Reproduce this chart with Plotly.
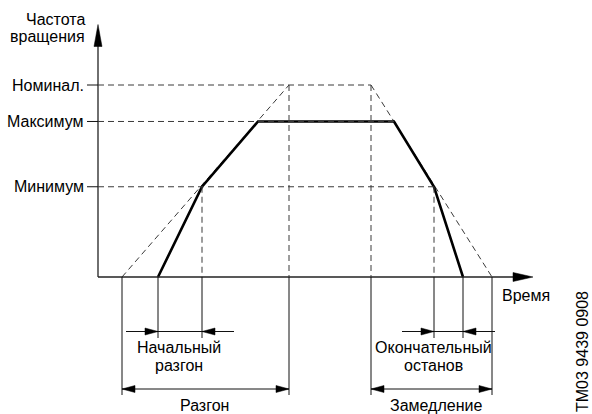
import plotly.graph_objects as go

# ---- data -------------------------------------------------------------
# speed levels in % of nominal speed
LEVEL_LABELS = ["Номинал.", "Максимум", "Минимум"]
NOMINAL = 100
MAXIMUM = 81
MINIMUM = 47

# dashed ramp through nominal speed (time, s)
RAMP_UP_T = [2.4, 19.1]          # 0 -> nominal
RAMP_DOWN_T = [27.3, 39.4]       # nominal -> 0

# actual speed profile
PROFILE_T = [6.0, 10.4, 16.0, 29.6, 33.6, 36.5]
PROFILE_V = [0, MINIMUM, MAXIMUM, MAXIMUM, MINIMUM, 0]

# ---- layout constants ---------------------------------------------------
W, H = 592, 414
X0_PX, Y0_PX = 98, 277           # origin of the time/speed axes
PX_PER_T = 10.0                  # horizontal pixels per second
PX_PER_V = 1.92                  # vertical pixels per % speed

X_RANGE = [-X0_PX / PX_PER_T, (W - X0_PX) / PX_PER_T]
Y_RANGE = [-(H - Y0_PX) / PX_PER_V, Y0_PX / PX_PER_V]


def dx(px):
    return px / PX_PER_T


def dy(px):
    return px / PX_PER_V


FONT = dict(family="Liberation Sans, Arial, sans-serif", size=16, color="#000")
DASH = "6px,4px"
DASH_COL = "#3a3a3a"
THIN_COL = "#111"

fig = go.Figure()
shapes = []
annotations = []


def seg(x0, y0, x1, y1, color=THIN_COL, width=1, dash="solid"):
    shapes.append(dict(type="line", xref="x", yref="y", x0=x0, y0=y0,
                       x1=x1, y1=y1, layer="above",
                       line=dict(color=color, width=width, dash=dash)))


def arrowhead(tx, ty, direction, length_px, width_px, color="#000"):
    """Filled triangle with its tip at (tx, ty)."""
    if direction in ("left", "right"):
        s = 1 if direction == "right" else -1
        bx = tx - s * dx(length_px)
        pts = [(tx, ty), (bx, ty + dy(width_px / 2)), (bx, ty - dy(width_px / 2))]
    else:
        s = 1 if direction == "up" else -1
        by = ty - s * dy(length_px)
        pts = [(tx, ty), (tx - dx(width_px / 2), by), (tx + dx(width_px / 2), by)]
    path = "M " + " L ".join(f"{x},{y}" for x, y in pts) + " Z"
    shapes.append(dict(type="path", xref="x", yref="y", path=path,
                       fillcolor=color, line=dict(color=color, width=0.5),
                       layer="above"))


def text(x, y, s, xanchor="center", angle=0):
    annotations.append(dict(x=x, y=y, xref="x", yref="y", text=s,
                            showarrow=False, xanchor=xanchor,
                            yanchor="middle", font=FONT, textangle=angle))


# ---- axes with arrows ---------------------------------------------------
t_tip = dx(533 - X0_PX)
v_tip = dy(Y0_PX - 24.5)
seg(0, 0, t_tip - dx(18), 0, color="#222", width=1.3)
seg(0, 0, 0, v_tip - dy(18), color="#222", width=1.3)
arrowhead(t_tip, 0, "right", 20, 9)
arrowhead(0, v_tip, "up", 22, 8)

# ---- level ticks, labels and dashed guides ------------------------------
t_end_nom = RAMP_DOWN_T[0]
t_end_max = PROFILE_T[3]
t_end_min = PROFILE_T[4]
for label, level, t_end in zip(LEVEL_LABELS, [NOMINAL, MAXIMUM, MINIMUM],
                               [t_end_nom, t_end_max, t_end_min]):
    seg(-dx(11), level, 0, level, width=1)
    seg(0, level, t_end, level, color=DASH_COL, dash=DASH)
    text(-dx(12), level, label, xanchor="right")

# vertical dashed guides
seg(RAMP_UP_T[1], NOMINAL, RAMP_UP_T[1], 0, color=DASH_COL, dash=DASH)
seg(RAMP_DOWN_T[0], NOMINAL, RAMP_DOWN_T[0], 0, color=DASH_COL, dash=DASH)
seg(PROFILE_T[1], MINIMUM, PROFILE_T[1], 0, color=DASH_COL, dash=DASH)
seg(PROFILE_T[4], MINIMUM, PROFILE_T[4], 0, color=DASH_COL, dash=DASH)

# dashed ramps through nominal speed
fig.add_trace(go.Scatter(
    x=[RAMP_UP_T[0], RAMP_UP_T[1], None, RAMP_DOWN_T[0], RAMP_DOWN_T[1]],
    y=[0, NOMINAL, None, NOMINAL, 0],
    mode="lines", line=dict(color=DASH_COL, width=1, dash=DASH),
    hoverinfo="skip", showlegend=False))

# actual speed profile
fig.add_trace(go.Scatter(
    x=PROFILE_T, y=PROFILE_V, mode="lines",
    line=dict(color="#000", width=2.6), hoverinfo="skip", showlegend=False))

# ---- dimension lines below the time axis --------------------------------
row_inner = -dy(331.5 - Y0_PX)
row_outer = -dy(389 - Y0_PX)
ext_inner = -dy(338 - Y0_PX)
ext_outer = -dy(395 - Y0_PX)
overhang = dx(32)

# initial ramp / final stop: arrows pointing inward
for ta, tb in [(PROFILE_T[0], PROFILE_T[1]), (PROFILE_T[4], PROFILE_T[5])]:
    seg(ta, 0, ta, ext_inner)
    seg(tb, 0, tb, ext_inner)
    seg(ta - overhang, row_inner, tb + overhang, row_inner)
    arrowhead(ta, row_inner, "right", 13, 7)
    arrowhead(tb, row_inner, "left", 13, 7)

# ramp up / ramp down: arrows pointing outward
for ta, tb in [(RAMP_UP_T[0], RAMP_UP_T[1]), (RAMP_DOWN_T[0], RAMP_DOWN_T[1])]:
    seg(ta, 0, ta, ext_outer)
    seg(tb, 0, tb, ext_outer)
    seg(ta, row_outer, tb, row_outer)
    arrowhead(ta, row_outer, "left", 13, 7)
    arrowhead(tb, row_outer, "right", 13, 7)

# ---- texts --------------------------------------------------------------
text(-dx(11), dy(Y0_PX - 19.3), "Частота", xanchor="right")
text(-dx(11), dy(Y0_PX - 36.3), "вращения", xanchor="right")
text(dx(500 - X0_PX), -dy(295 - Y0_PX), "Время", xanchor="left")

text(dx(179 - X0_PX), -dy(347 - Y0_PX), "Начальный")
text(dx(179 - X0_PX), -dy(365 - Y0_PX), "разгон")
text(dx(204 - X0_PX), -dy(405 - Y0_PX), "Разгон")
text(dx(433 - X0_PX), -dy(347 - Y0_PX), "Окончательный")
text(dx(433 - X0_PX), -dy(365 - Y0_PX), "останов")
text(dx(436 - X0_PX), -dy(405 - Y0_PX), "Замедление")
text(dx(582 - X0_PX), -dy(352 - Y0_PX), "TM03 9439 0908", angle=-90)

fig.update_layout(
    width=W, height=H,
    margin=dict(l=0, r=0, t=0, b=0),
    paper_bgcolor="white", plot_bgcolor="white",
    xaxis=dict(range=X_RANGE, visible=False, fixedrange=True),
    yaxis=dict(range=Y_RANGE, visible=False, fixedrange=True),
    shapes=shapes, annotations=annotations,
    showlegend=False,
)

fig.write_html("out.html", config={"displayModeBar": False})
